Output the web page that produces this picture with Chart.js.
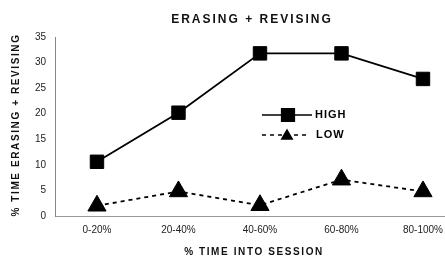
<!DOCTYPE html>
<html>
<head>
<meta charset="utf-8">
<script src="https://cdn.jsdelivr.net/npm/chart.js@4/dist/chart.umd.min.js"></script>
<style>
  html, body { margin: 0; padding: 0; background: #fff; }
  #wrap { width: 445px; height: 258px; }
</style>
</head>
<body>
<div id="wrap"><canvas id="myChart"></canvas></div>
<script>
var categories = ['0-20%', '20-40%', '40-60%', '60-80%', '80-100%']
var highValues = [10.6, 20.2, 31.8, 31.8, 26.8]
var lowValues = [2.0, 4.8, 2.1, 7.1, 4.8]
var yTicks = [0, 5, 10, 15, 20, 25, 30, 35]

var chartTitle = 'ERASING + REVISING'
var xTitle = '% TIME INTO SESSION'
var yTitle = '% TIME ERASING + REVISING'

function toPoints(values) {
  return values.map(function (v, i) { return { x: i, y: v } })
}

var textPlugin = {
  id: 'textPlugin',
  afterDraw: function (chart) {
    var c = chart.ctx
    c.save()
    c.fillStyle = '#111'
    c.textAlign = 'center'
    c.textBaseline = 'middle'
    c.letterSpacing = '2px'
    c.font = 'bold 12px "Liberation Sans", Arial, sans-serif'
    c.fillText(chartTitle, 252, 20)
    c.letterSpacing = '1.6px'
    c.font = 'bold 10px "Liberation Sans", Arial, sans-serif'
    c.fillText(xTitle, 254, 252)
    c.translate(16, 125)
    c.rotate(-Math.PI / 2)
    c.fillText(yTitle, 0, 0)
    c.restore()

    // legend inside the plot
    c.save()
    c.strokeStyle = '#000'
    c.fillStyle = '#000'
    c.lineWidth = 1.5
    c.beginPath()
    c.moveTo(262, 115)
    c.lineTo(312, 115)
    c.stroke()
    Chart.helpers.drawPoint(c, { pointStyle: 'rect', radius: 9, borderWidth: 1 }, 288, 115)
    c.setLineDash([4, 4])
    c.beginPath()
    c.moveTo(262, 135)
    c.lineTo(308, 135)
    c.stroke()
    c.setLineDash([])
    Chart.helpers.drawPoint(c, { pointStyle: 'triangle', radius: 6, borderWidth: 1 }, 287, 136)
    c.letterSpacing = '1px'
    c.font = 'bold 11px "Liberation Sans", Arial, sans-serif'
    c.textBaseline = 'middle'
    c.textAlign = 'left'
    c.fillText('HIGH', 315, 115)
    c.fillText('LOW', 316, 135)
    c.restore()
  }
}

var ctx = document.getElementById('myChart').getContext('2d')
var myChart = new Chart(ctx, {
  type: 'line',
  data: {
    datasets: [
      {
        label: 'HIGH',
        data: toPoints(highValues),
        borderColor: '#000',
        backgroundColor: '#000',
        pointBackgroundColor: '#000',
        pointBorderColor: '#000',
        borderWidth: 1.8,
        pointStyle: 'rect',
        pointRadius: 9.5,
        pointBorderWidth: 1,
        tension: 0,
      },
      {
        label: 'LOW',
        data: toPoints(lowValues),
        borderColor: '#000',
        backgroundColor: '#000',
        pointBackgroundColor: '#000',
        pointBorderColor: '#000',
        borderWidth: 1.8,
        borderDash: [4, 4],
        pointStyle: 'triangle',
        pointRadius: 10.5,
        pointBorderWidth: 1,
        tension: 0,
      },
    ],
  },
  options: {
    responsive: true,
    maintainAspectRatio: false,
    animation: { duration: 0 },
    layout: { autoPadding: false, padding: { top: 37, right: 0, left: 0, bottom: 0 } },
    plugins: {
      legend: { display: false },
      title: { display: false },
      tooltip: { enabled: false },
    },
    scales: {
      x: {
        type: 'linear',
        min: -0.515,
        max: 4.27,
        afterFit: function (scale) {
          scale.height = 42
          scale.paddingLeft = 0
          scale.paddingRight = 0
        },
        afterBuildTicks: function (scale) {
          scale.ticks = categories.map(function (c, i) { return { value: i } })
        },
        grid: { display: false, drawTicks: false },
        border: { display: true, color: '#999', dash: [2, 5], width: 1 },
        ticks: {
          padding: 8,
          color: '#222',
          font: { family: '"Liberation Sans", Arial, sans-serif', size: 10 },
          callback: function (v) { return categories[v] },
          maxRotation: 0,
        },
      },
      y: {
        min: 0,
        max: 35,
        afterFit: function (scale) { scale.width = 55 },
        afterBuildTicks: function (scale) {
          scale.ticks = yTicks.map(function (v) { return { value: v } })
        },
        grid: { display: false, drawTicks: false },
        border: { display: true, color: '#888', dash: [1, 3], width: 1 },
        ticks: {
          padding: 9,
          color: '#222',
          font: { family: '"Liberation Sans", Arial, sans-serif', size: 10 },
        },
      },
    },
  },
  plugins: [textPlugin],
})
</script>
</body>
</html>
